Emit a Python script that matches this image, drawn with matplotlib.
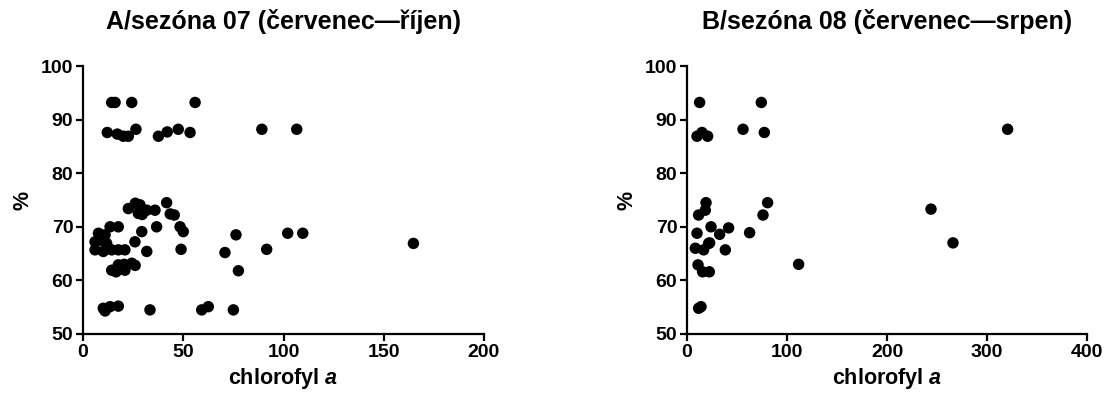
import matplotlib
matplotlib.use('Agg')
import matplotlib.pyplot as plt

plt.rcParams.update({
    'font.family': ['Liberation Sans', 'DejaVu Sans'],
    'font.weight': 'bold',
    'mathtext.fontset': 'custom',
    'mathtext.it': 'Liberation Sans:italic:bold',
    'mathtext.rm': 'Liberation Sans:bold',
})

# --- data ---
chl_a = [14.3, 16.0, 24.3, 55.9,
         12.1, 17.1, 20.1, 22.6, 26.4, 37.6, 42.0, 47.5, 53.4, 89.2, 106.6,
         22.6, 26.1, 28.4, 27.6, 31.8, 35.9, 41.7, 43.5, 45.5, 29.5,
         13.5, 17.6, 36.7, 48.4, 50.0, 29.3, 102.1, 109.6, 76.3,
         7.7, 6.0, 6.0, 11.0, 11.8, 10.1, 14.3, 17.6, 20.9, 9.0,
         25.9, 31.8, 48.9, 70.8, 91.6, 164.8,
         14.3, 17.6, 20.9, 24.3, 20.5, 26.0, 77.5, 16.5,
         10.1, 13.5, 17.6, 33.4, 59.2, 62.5, 75.0, 11.0]
pct_a = [93.2, 93.2, 93.2, 93.2,
         87.6, 87.3, 86.9, 86.9, 88.2, 86.9, 87.7, 88.2, 87.6, 88.2, 88.2,
         73.4, 74.4, 74.1, 72.5, 73.1, 73.1, 74.5, 72.4, 72.2, 72.3,
         70.0, 70.0, 70.0, 70.0, 69.1, 69.1, 68.8, 68.8, 68.5,
         68.8, 67.2, 65.7, 68.5, 66.9, 65.4, 65.7, 65.7, 65.7, 67.5,
         67.2, 65.4, 65.8, 65.2, 65.8, 66.9,
         61.9, 62.9, 61.9, 63.2, 63.0, 62.8, 61.8, 61.6,
         54.8, 55.1, 55.2, 54.5, 54.5, 55.1, 54.5, 54.3]

chl_b = [12.6, 74.3,
         10.0, 15.0, 20.6, 56.0, 77.3,
         19.0, 11.6, 18.3, 80.6, 76.0,
         10.0, 24.0, 32.6, 41.6, 62.6,
         22.6, 8.3, 16.6, 21.6, 38.3,
         11.0, 15.6, 22.3, 111.6,
         11.6, 14.0,
         320.6, 244.0, 266.0]
pct_b = [93.2, 93.2,
         86.9, 87.6, 86.9, 88.2, 87.6,
         74.5, 72.2, 73.1, 74.5, 72.2,
         68.8, 70.0, 68.6, 69.8, 68.9,
         67.0, 66.0, 65.7, 66.9, 65.7,
         62.9, 61.6, 61.6, 63.0,
         54.8, 55.1,
         88.2, 73.3, 67.0]

titles = ['A/sezóna 07 (červenec\u2014říjen)', 'B/sezóna 08 (červenec\u2014srpen)']
xticks = [[0, 50, 100, 150, 200], [0, 100, 200, 300, 400]]
yticks = [50, 60, 70, 80, 90, 100]

fig = plt.figure(figsize=(11.04, 3.97), dpi=100)
axes = [fig.add_axes([0.0752, 0.1587, 0.3632, 0.675]),
        fig.add_axes([0.6223, 0.1587, 0.3623, 0.675])]

for ax, xs, ys, title, xt in zip(axes, [chl_a, chl_b], [pct_a, pct_b], titles, xticks):
    ax.scatter(xs, ys, s=68, color='black', edgecolors='none', zorder=3, clip_on=False)
    ax.set_xlim(xt[0], xt[-1])
    ax.set_ylim(50, 100)
    ax.set_xticks(xt)
    ax.set_yticks(yticks)
    ax.spines['top'].set_visible(False)
    ax.spines['right'].set_visible(False)
    for s in ['left', 'bottom']:
        ax.spines[s].set_linewidth(1.6)
    ax.tick_params(direction='out', length=5, width=1.6, labelsize=14, pad=2)
    for lab in ax.get_xticklabels() + ax.get_yticklabels():
        lab.set_fontweight('bold')
    ax.set_xlabel('chlorofyl $a$', fontsize=15.5, fontweight='bold', labelpad=4)
    ax.set_ylabel('%', fontsize=15.5, fontweight='bold', labelpad=5)
    ax.set_title(title, fontsize=18, fontweight='bold', pad=27)

fig.savefig('out.png', dpi=100)
